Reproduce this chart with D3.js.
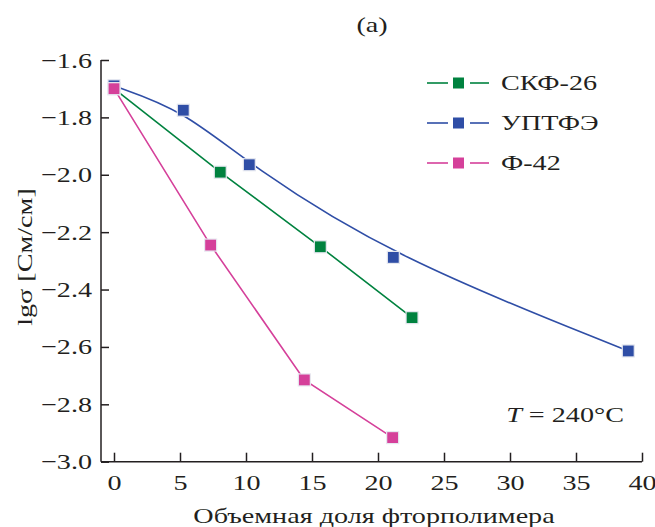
<!DOCTYPE html>
<html>
<head>
<meta charset="utf-8">
<script src="https://cdn.jsdelivr.net/npm/d3@7"></script>
<style>
  body { margin: 0; background: #fff; }
  text { font-family: "Liberation Serif", "Times New Roman", serif; fill: #231f20; }
</style>
</head>
<body>
<div id="chart"></div>
<script>
// Data
const skfX = [0, 8.05, 15.63, 22.58];
const skfY = [-1.70, -1.991, -2.251, -2.498];
const uptfeX = [0, 5.25, 10.25, 21.16, 38.96];
const uptfeY = [-1.69, -1.775, -1.965, -2.288, -2.614];
const f42X = [0, 7.32, 14.42, 21.11];
const f42Y = [-1.70, -2.245, -2.715, -2.916];
const seriesNames = ["СКФ-26", "УПТФЭ", "Ф-42"];
const xTicks = [0, 5, 10, 15, 20, 25, 30, 35, 40];
const yTicks = [-3.0, -2.8, -2.6, -2.4, -2.2, -2.0, -1.8, -1.6];

(function() {
    const W = 655, H = 527;
    const axisLeft = 101;
    const colors = ["#00823f", "#2f4ea6", "#d5409a"];
    const fs = "22px";
    const k = 1.28;   // the figure's serif font is drawn wider than Times

    const svg = d3.select("#chart").append("svg")
        .attr("width", W).attr("height", H);

    const x = d3.scaleLinear().domain([0, 40]).range([114, 642]);
    const y = d3.scaleLinear().domain([-3.0, -1.6]).range([461.7, 60]);

    const zip = (xs, ys) => xs.map((v, i) => ({x: v, y: ys[i]}));
    const series = [
        {name: seriesNames[0], pts: zip(skfX, skfY), curve: d3.curveLinear},
        {name: seriesNames[1], pts: zip(uptfeX, uptfeY), curve: d3.curveBasis},
        {name: seriesNames[2], pts: zip(f42X, f42Y), curve: d3.curveLinear}
    ];

    // wide text placed at (px, py), optional rotation
    function label(px, py, anchor, rot) {
        return svg.append("text")
            .attr("transform", `translate(${px},${py})` + (rot ? ` rotate(${rot})` : "") + ` scale(${k},1)`)
            .attr("text-anchor", anchor)
            .style("font-size", fs);
    }

    // axes
    const xAxis = d3.axisBottom(x).tickValues(xTicks).tickSize(-9).tickSizeOuter(0).tickPadding(13)
        .tickFormat(d3.format("d"));
    const gx = svg.append("g").attr("transform", `translate(0,${y(-3.0)})`).call(xAxis);
    gx.select(".domain").remove();

    const yAxis = d3.axisLeft(y).tickValues(yTicks).tickSize(-8).tickSizeOuter(0).tickPadding(9)
        .tickFormat(d => d3.format(".1f")(d).replace("-", "\u2212"));
    const gy = svg.append("g").attr("transform", `translate(${axisLeft},0)`).call(yAxis);
    gy.select(".domain").remove();

    [gx, gy].forEach(g => {
        g.selectAll("line").attr("stroke", "#231f20").attr("stroke-width", 1.5);
        g.selectAll("text").style("font-size", fs).attr("fill", "#231f20")
            .attr("transform", `scale(${k},1)`);
    });
    gx.selectAll("text").attr("dy", "0.71em");
    gy.selectAll("text").attr("x", -9 / k);

    svg.append("line")
        .attr("x1", axisLeft).attr("x2", x(40))
        .attr("y1", y(-3.0)).attr("y2", y(-3.0))
        .attr("stroke", "#231f20").attr("stroke-width", 1.5);
    svg.append("line")
        .attr("x1", axisLeft).attr("x2", axisLeft)
        .attr("y1", y(-3.0)).attr("y2", y(-1.6))
        .attr("stroke", "#231f20").attr("stroke-width", 1.5);

    // lines
    series.forEach((s, i) => {
        const line = d3.line().x(d => x(d.x)).y(d => y(d.y)).curve(s.curve);
        svg.append("path")
            .datum(s.pts)
            .attr("d", line)
            .attr("fill", "none")
            .attr("stroke", colors[i])
            .attr("stroke-width", 1.6);
    });

    // markers, blue drawn first so pink sits on top at x=0
    const order = [1, 0, 2];
    const ms = 12;
    order.forEach(i => {
        svg.selectAll(null)
            .data(series[i].pts)
            .enter()
            .append("rect")
            .attr("x", d => x(d.x) - ms / 2)
            .attr("y", d => y(d.y) - ms / 2)
            .attr("width", ms).attr("height", ms)
            .attr("fill", colors[i])
            .attr("stroke", "#e6e8f0").attr("stroke-width", 1.2);
    });

    // legend
    const legend = svg.append("g").attr("transform", "translate(427,83)");
    seriesNames.forEach((name, i) => {
        const g = legend.append("g").attr("transform", `translate(0,${i * 40})`);
        g.append("line").attr("x1", 0).attr("x2", 21).attr("stroke", colors[i]).attr("stroke-width", 1.6);
        g.append("line").attr("x1", 43).attr("x2", 62).attr("stroke", colors[i]).attr("stroke-width", 1.6);
        g.append("rect").attr("x", 26).attr("y", -5.5).attr("width", 11).attr("height", 11)
            .attr("fill", colors[i]);
        g.append("text").attr("transform", `translate(74,7) scale(${k},1)`)
            .style("font-size", fs).text(name);
    });

    // titles
    label(372, 32, "middle").text("(a)");

    const tt = label(624, 422, "end");
    tt.append("tspan").style("font-style", "italic").text("T");
    tt.append("tspan").text(" = 240°C");

    label(374, 523, "middle").text("Объемная доля фторполимера");

    label(32, 257, "middle", -90).text("lgσ [См/см]");
})();
</script>
</body>
</html>
